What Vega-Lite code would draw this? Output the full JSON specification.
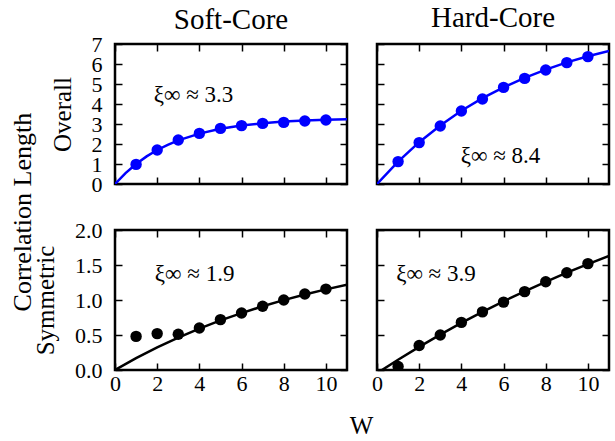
{
  "$schema": "https://vega.github.io/schema/vega-lite/v6.json",
  "padding": {"left": 10, "top": 3, "right": 5, "bottom": 0},
  "background": "white",
  "title": {"text": "Correlation Length", "orient": "left", "anchor": "middle", "fontSize": 26, "offset": -4, "dx": 9},
  "datasets": {
    "curves": [
      {"panel": "SO", "w": 0, "xi": 0}, {"panel": "SO", "w": 0.5, "xi": 0.545}, {"panel": "SO", "w": 1, "xi": 1.0}, {"panel": "SO", "w": 1.5, "xi": 1.38}, {"panel": "SO", "w": 2, "xi": 1.70}, {"panel": "SO", "w": 2.5, "xi": 1.96}, {"panel": "SO", "w": 3, "xi": 2.18}, {"panel": "SO", "w": 4, "xi": 2.52}, {"panel": "SO", "w": 5, "xi": 2.76}, {"panel": "SO", "w": 6, "xi": 2.92}, {"panel": "SO", "w": 7, "xi": 3.04}, {"panel": "SO", "w": 8, "xi": 3.12}, {"panel": "SO", "w": 9, "xi": 3.17}, {"panel": "SO", "w": 10, "xi": 3.21}, {"panel": "SO", "w": 11, "xi": 3.24},
      {"panel": "HO", "w": 0, "xi": 0}, {"panel": "HO", "w": 1, "xi": 1.12}, {"panel": "HO", "w": 2, "xi": 2.09}, {"panel": "HO", "w": 3, "xi": 2.93}, {"panel": "HO", "w": 4, "xi": 3.66}, {"panel": "HO", "w": 5, "xi": 4.29}, {"panel": "HO", "w": 6, "xi": 4.83}, {"panel": "HO", "w": 7, "xi": 5.31}, {"panel": "HO", "w": 8, "xi": 5.72}, {"panel": "HO", "w": 9, "xi": 6.08}, {"panel": "HO", "w": 10, "xi": 6.39}, {"panel": "HO", "w": 11, "xi": 6.65},
      {"panel": "SS", "w": 0, "xi": 0}, {"panel": "SS", "w": 1, "xi": 0.169}, {"panel": "SS", "w": 2, "xi": 0.323}, {"panel": "SS", "w": 3, "xi": 0.463}, {"panel": "SS", "w": 4, "xi": 0.591}, {"panel": "SS", "w": 5, "xi": 0.708}, {"panel": "SS", "w": 6, "xi": 0.813}, {"panel": "SS", "w": 7, "xi": 0.910}, {"panel": "SS", "w": 8, "xi": 0.998}, {"panel": "SS", "w": 9, "xi": 1.079}, {"panel": "SS", "w": 10, "xi": 1.152}, {"panel": "SS", "w": 11, "xi": 1.22},
      {"panel": "HS", "w": 0, "xi": -0.046}, {"panel": "HS", "w": 1, "xi": 0.147}, {"panel": "HS", "w": 2, "xi": 0.331}, {"panel": "HS", "w": 3, "xi": 0.506}, {"panel": "HS", "w": 4, "xi": 0.672}, {"panel": "HS", "w": 5, "xi": 0.83}, {"panel": "HS", "w": 6, "xi": 0.981}, {"panel": "HS", "w": 7, "xi": 1.124}, {"panel": "HS", "w": 8, "xi": 1.26}, {"panel": "HS", "w": 9, "xi": 1.39}, {"panel": "HS", "w": 10, "xi": 1.513}, {"panel": "HS", "w": 11, "xi": 1.63}
    ],
    "points": [
      {"panel": "SO", "w": 1, "xi": 0.98}, {"panel": "SO", "w": 2, "xi": 1.70}, {"panel": "SO", "w": 3, "xi": 2.2}, {"panel": "SO", "w": 4, "xi": 2.53}, {"panel": "SO", "w": 5, "xi": 2.78}, {"panel": "SO", "w": 6, "xi": 2.92}, {"panel": "SO", "w": 7, "xi": 3.03}, {"panel": "SO", "w": 8, "xi": 3.08}, {"panel": "SO", "w": 9, "xi": 3.15}, {"panel": "SO", "w": 10, "xi": 3.2},
      {"panel": "HO", "w": 1, "xi": 1.12}, {"panel": "HO", "w": 2, "xi": 2.07}, {"panel": "HO", "w": 3, "xi": 2.9}, {"panel": "HO", "w": 4, "xi": 3.65}, {"panel": "HO", "w": 5, "xi": 4.25}, {"panel": "HO", "w": 6, "xi": 4.83}, {"panel": "HO", "w": 7, "xi": 5.28}, {"panel": "HO", "w": 8, "xi": 5.7}, {"panel": "HO", "w": 9, "xi": 6.07}, {"panel": "HO", "w": 10, "xi": 6.37},
      {"panel": "SS", "w": 1, "xi": 0.48}, {"panel": "SS", "w": 2, "xi": 0.52}, {"panel": "SS", "w": 3, "xi": 0.51}, {"panel": "SS", "w": 4, "xi": 0.6}, {"panel": "SS", "w": 5, "xi": 0.72}, {"panel": "SS", "w": 6, "xi": 0.815}, {"panel": "SS", "w": 7, "xi": 0.91}, {"panel": "SS", "w": 8, "xi": 1.0}, {"panel": "SS", "w": 9, "xi": 1.085}, {"panel": "SS", "w": 10, "xi": 1.156},
      {"panel": "HS", "w": 1, "xi": 0.05}, {"panel": "HS", "w": 2, "xi": 0.35}, {"panel": "HS", "w": 3, "xi": 0.50}, {"panel": "HS", "w": 4, "xi": 0.68}, {"panel": "HS", "w": 5, "xi": 0.83}, {"panel": "HS", "w": 6, "xi": 0.97}, {"panel": "HS", "w": 7, "xi": 1.12}, {"panel": "HS", "w": 8, "xi": 1.26}, {"panel": "HS", "w": 9, "xi": 1.39}, {"panel": "HS", "w": 10, "xi": 1.52}
    ],
    "labels": [
      {"panel": "SO", "w": 1.84, "xi": 4.45, "label": "ξ∞ ≈ 3.3"},
      {"panel": "HO", "w": 3.97, "xi": 1.4, "label": "ξ∞ ≈ 8.4"},
      {"panel": "SS", "w": 1.89, "xi": 1.376, "label": "ξ∞ ≈ 1.9"},
      {"panel": "HS", "w": 0.91, "xi": 1.376, "label": "ξ∞ ≈ 3.9"}
    ]
  },
  "vconcat": [
    {
      "title": {"text": "W", "orient": "bottom", "anchor": "middle", "fontSize": 25, "offset": 19, "dx": 40},
      "columns": 2,
      "bounds": "flush",
      "spacing": {"row": 46, "column": 30},
      "concat": [
        {
          "title": {"text": "Soft-Core", "anchor": "middle", "frame": "group", "offset": -2},
          "width": 232, "height": 140,
          "layer": [
            {"data": {"name": "curves"}, "transform": [{"filter": "datum.panel === 'SO'"}],
             "mark": {"type": "line", "color": "#0000ff", "strokeWidth": 2.5, "clip": true},
             "encoding": {
               "x": {"field": "w", "type": "quantitative", "scale": {"domain": [0, 11], "nice": false}, "axis": {"orient": "bottom", "values": [0, 2, 4, 6, 8, 10], "labels": false, "title": null}},
               "y": {"field": "xi", "type": "quantitative", "scale": {"domain": [0, 7], "nice": false}, "axis": {"orient": "left", "values": [0, 1, 2, 3, 4, 5, 6, 7], "title": "Overall"}}
             }},
            {"data": {"name": "points"}, "transform": [{"filter": "datum.panel === 'SO'"}],
             "mark": {"type": "circle", "color": "#0000ff", "size": 130, "opacity": 1, "clip": true},
             "encoding": {
               "x": {"field": "w", "type": "quantitative", "scale": {"domain": [0, 11], "nice": false}, "axis": {"orient": "top", "values": [0, 2, 4, 6, 8, 10], "labels": false, "title": null}},
               "y": {"field": "xi", "type": "quantitative", "scale": {"domain": [0, 7], "nice": false}, "axis": {"orient": "right", "values": [0, 1, 2, 3, 4, 5, 6, 7], "labels": false, "title": null}}
             }},
            {"data": {"name": "labels"}, "transform": [{"filter": "datum.panel === 'SO'"}],
             "mark": {"type": "text", "align": "left", "baseline": "middle", "fontSize": 23, "font": "Liberation Serif", "color": "black"},
             "encoding": {
               "x": {"field": "w", "type": "quantitative", "axis": null},
               "y": {"field": "xi", "type": "quantitative", "axis": null},
               "text": {"field": "label"}
             }}
          ],
          "resolve": {"axis": {"x": "independent", "y": "independent"}}
        },
        {
          "title": {"text": "Hard-Core", "anchor": "middle", "frame": "group", "offset": 10},
          "width": 232, "height": 140,
          "layer": [
            {"data": {"name": "curves"}, "transform": [{"filter": "datum.panel === 'HO'"}],
             "mark": {"type": "line", "color": "#0000ff", "strokeWidth": 2.5, "clip": true},
             "encoding": {
               "x": {"field": "w", "type": "quantitative", "scale": {"domain": [0, 11], "nice": false}, "axis": {"orient": "bottom", "values": [0, 2, 4, 6, 8, 10], "labels": false, "title": null}},
               "y": {"field": "xi", "type": "quantitative", "scale": {"domain": [0, 7], "nice": false}, "axis": {"orient": "left", "values": [0, 1, 2, 3, 4, 5, 6, 7], "labels": false, "title": null}}
             }},
            {"data": {"name": "points"}, "transform": [{"filter": "datum.panel === 'HO'"}],
             "mark": {"type": "circle", "color": "#0000ff", "size": 130, "opacity": 1, "clip": true},
             "encoding": {
               "x": {"field": "w", "type": "quantitative", "scale": {"domain": [0, 11], "nice": false}, "axis": {"orient": "top", "values": [0, 2, 4, 6, 8, 10], "labels": false, "title": null}},
               "y": {"field": "xi", "type": "quantitative", "scale": {"domain": [0, 7], "nice": false}, "axis": {"orient": "right", "values": [0, 1, 2, 3, 4, 5, 6, 7], "labels": false, "title": null}}
             }},
            {"data": {"name": "labels"}, "transform": [{"filter": "datum.panel === 'HO'"}],
             "mark": {"type": "text", "align": "left", "baseline": "middle", "fontSize": 23, "font": "Liberation Serif", "color": "black"},
             "encoding": {
               "x": {"field": "w", "type": "quantitative", "axis": null},
               "y": {"field": "xi", "type": "quantitative", "axis": null},
               "text": {"field": "label"}
             }}
          ],
          "resolve": {"axis": {"x": "independent", "y": "independent"}}
        },
        {
          "width": 232, "height": 140,
          "layer": [
            {"data": {"name": "curves"}, "transform": [{"filter": "datum.panel === 'SS'"}],
             "mark": {"type": "line", "color": "black", "strokeWidth": 2.5, "clip": true},
             "encoding": {
               "x": {"field": "w", "type": "quantitative", "scale": {"domain": [0, 11], "nice": false}, "axis": {"orient": "bottom", "values": [0, 2, 4, 6, 8, 10], "labelPadding": 10, "title": null}},
               "y": {"field": "xi", "type": "quantitative", "scale": {"domain": [0, 2], "nice": false}, "axis": {"orient": "left", "values": [0, 0.5, 1, 1.5, 2], "format": ".1f", "title": "Symmetric"}}
             }},
            {"data": {"name": "points"}, "transform": [{"filter": "datum.panel === 'SS'"}],
             "mark": {"type": "circle", "color": "black", "size": 130, "opacity": 1, "clip": true},
             "encoding": {
               "x": {"field": "w", "type": "quantitative", "scale": {"domain": [0, 11], "nice": false}, "axis": {"orient": "top", "values": [0, 2, 4, 6, 8, 10], "labels": false, "title": null}},
               "y": {"field": "xi", "type": "quantitative", "scale": {"domain": [0, 2], "nice": false}, "axis": {"orient": "right", "values": [0, 0.5, 1, 1.5, 2], "labels": false, "title": null}}
             }},
            {"data": {"name": "labels"}, "transform": [{"filter": "datum.panel === 'SS'"}],
             "mark": {"type": "text", "align": "left", "baseline": "middle", "fontSize": 23, "font": "Liberation Serif", "color": "black"},
             "encoding": {
               "x": {"field": "w", "type": "quantitative", "axis": null},
               "y": {"field": "xi", "type": "quantitative", "axis": null},
               "text": {"field": "label"}
             }}
          ],
          "resolve": {"axis": {"x": "independent", "y": "independent"}}
        },
        {
          "width": 232, "height": 140,
          "layer": [
            {"data": {"name": "curves"}, "transform": [{"filter": "datum.panel === 'HS'"}],
             "mark": {"type": "line", "color": "black", "strokeWidth": 2.5, "clip": true},
             "encoding": {
               "x": {"field": "w", "type": "quantitative", "scale": {"domain": [0, 11], "nice": false}, "axis": {"orient": "bottom", "values": [0, 2, 4, 6, 8, 10], "labelPadding": 10, "title": null}},
               "y": {"field": "xi", "type": "quantitative", "scale": {"domain": [0, 2], "nice": false}, "axis": {"orient": "left", "values": [0, 0.5, 1, 1.5, 2], "labels": false, "title": null}}
             }},
            {"data": {"name": "points"}, "transform": [{"filter": "datum.panel === 'HS'"}],
             "mark": {"type": "circle", "color": "black", "size": 130, "opacity": 1, "clip": true},
             "encoding": {
               "x": {"field": "w", "type": "quantitative", "scale": {"domain": [0, 11], "nice": false}, "axis": {"orient": "top", "values": [0, 2, 4, 6, 8, 10], "labels": false, "title": null}},
               "y": {"field": "xi", "type": "quantitative", "scale": {"domain": [0, 2], "nice": false}, "axis": {"orient": "right", "values": [0, 0.5, 1, 1.5, 2], "labels": false, "title": null}}
             }},
            {"data": {"name": "labels"}, "transform": [{"filter": "datum.panel === 'HS'"}],
             "mark": {"type": "text", "align": "left", "baseline": "middle", "fontSize": 23, "font": "Liberation Serif", "color": "black"},
             "encoding": {
               "x": {"field": "w", "type": "quantitative", "axis": null},
               "y": {"field": "xi", "type": "quantitative", "axis": null},
               "text": {"field": "label"}
             }}
          ],
          "resolve": {"axis": {"x": "independent", "y": "independent"}}
        }
      ]
    }
  ],
  "config": {
    "font": "Liberation Serif",
    "view": {"stroke": "black", "strokeWidth": 2.5},
    "axis": {"domain": false, "grid": false, "ticks": true, "tickSize": -7, "tickWidth": 1.5, "tickColor": "black", "labelFont": "Liberation Serif", "labelFontSize": 22, "labelColor": "black", "labelPadding": 20, "labelOverlap": false, "labelFlush": false, "titleFont": "Liberation Serif", "titleFontSize": 25, "titleFontWeight": "normal", "titleColor": "black", "titlePadding": 16, "minExtent": 0},
    "title": {"font": "Liberation Serif", "fontSize": 29, "fontWeight": "normal", "color": "black", "offset": 8}
  }
}
